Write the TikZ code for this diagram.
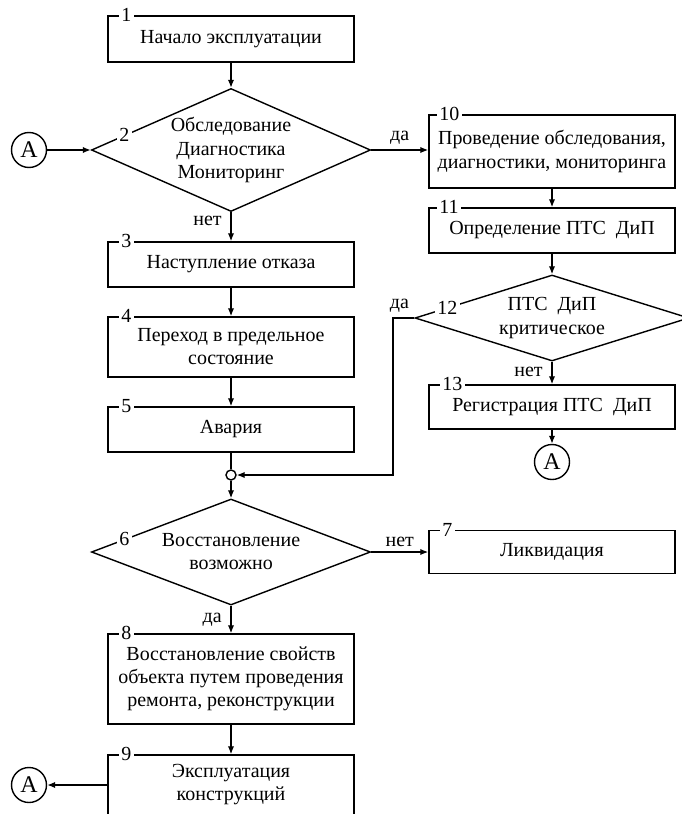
\documentclass[tikz,border=0pt]{standalone}
\usepackage{fontspec}
\setmainfont{Liberation Serif}
\usetikzlibrary{shapes.geometric,arrows.meta,calc}

\begin{document}
\begin{tikzpicture}[x=0.025cm,y=-0.025cm,font=\fontsize{14.2}{16.4}\selectfont,
    flow/.style={draw=black,line width=1pt,-{Latex[length=2mm,width=1.6mm]}}]
      \clip (0,0) rectangle (682,814);
      \begin{scope}[every node/.style={draw,line width=1pt,minimum width=6.15cm,align=center,inner sep=0pt}]
        \node[minimum height=1.15cm] (b1) at (231,39) {Начало эксплуатации};
        \node[minimum height=1.125cm] (b3) at (231,264.5) {Наступление отказа};
        \node[minimum height=1.5cm] (b4) at (231,347) {Переход в предельное\\состояние};
        \node[minimum height=1.125cm] (b5) at (231,429.5) {Авария};
        \node[minimum height=1.075cm] (b7) at (552,552) {Ликвидация};
        \node[minimum height=2.25cm] (b8) at (231,679) {Восстановление свойств\\объекта путем проведения\\ремонта, реконструкции};
        \node[minimum height=1.5cm] (b9) at (231,785) {Эксплуатация\\конструкций};
        \node[minimum height=1.825cm] (b10) at (552,151.5) {Проведение обследования,\\диагностики, мониторинга};
        \node[minimum height=1.125cm] (b11) at (552,230.5) {Определение ПТС~ ДиП};
        \node[minimum height=1.1cm] (b13) at (552,407) {Регистрация ПТС~ ДиП};
      \end{scope}
      \begin{scope}[every node/.style={draw,diamond,line width=1pt,inner sep=0pt}]
        \node[minimum width=6.975cm,minimum height=3.075cm] (d2) at (231,150) {};
        \node[minimum width=6.975cm,minimum height=2.65cm] (d6) at (231,552) {};
        \node[minimum width=6.85cm,minimum height=2.15cm] (d12) at (552,318) {};
      \end{scope}
      \begin{scope}[every node/.style={align=center}]
        \node (t2) at (d2) {Обследование\\Диагностика\\Мониторинг};
        \node (t6) at (d6) {Восстановление\\возможно};
        \node (t12) at (d12) {ПТС~ ДиП\\критическое};
      \end{scope}
      \begin{scope}[every node/.style={draw,circle,line width=1pt,inner sep=0pt,minimum size=0.875cm,font=\fontsize{17}{19}\selectfont}]
        \node (a1) at (29,150) {A};
        \node (a2) at (29,785) {A};
        \node (a3) at (552,462) {A};
      \end{scope}
      \node[draw,circle,fill=white,line width=1pt,inner sep=0pt,minimum size=0.25cm] (j) at (231,475) {};
      \coordinate (k12) at (393,318);
      \begin{scope}[every node/.style={fill=white,inner xsep=2pt,inner ysep=0pt}]
        \node[anchor=west] (n1) at ([xshift=0.275cm]b1.north west) {1};
        \node[anchor=west] (n3) at ([xshift=0.275cm]b3.north west) {3};
        \node[anchor=west] (n4) at ([xshift=0.275cm]b4.north west) {4};
        \node[anchor=west] (n5) at ([xshift=0.275cm]b5.north west) {5};
        \node[anchor=west] (n7) at ([xshift=0.275cm]b7.north west) {7};
        \node[anchor=west] (n8) at ([xshift=0.275cm]b8.north west) {8};
        \node[anchor=west] (n9) at ([xshift=0.275cm]b9.north west) {9};
        \node[anchor=west] (n10) at ([xshift=0.2cm]b10.north west) {10};
        \node[anchor=west] (n11) at ([xshift=0.2cm]b11.north west) {11};
        \node[anchor=west] (n13) at ([xshift=0.275cm]b13.north west) {13};
        \node (n2) at ($(d2.west)!0.24!(d2.north)$) {2};
        \node (n6) at ($(d6.west)!0.24!(d6.north)$) {6};
        \node (n12) at ($(d12.west)!0.24!(d12.north)$) {12};
      \end{scope}
      \begin{scope}[every edge/.style={flow}]
        \path (b1) edge (d2);
        \path (a1) edge (d2.west);
        \path (d2) edge node[left=1mm,pos=0.3] {нет} (b3);
        \path (d2.east) edge node[above] {да} (d2.east -| b10.west);
        \path (b3) edge (b4);
        \path (b4) edge (b5);
        \path (b5) edge[-] (j);
        \path (j) edge (d6);
        \path (d6.east) edge node[above] {нет} (d6.east -| b7.west);
        \path (d6) edge node[left=1mm] {да} (b8);
        \path (b8) edge (b9);
        \path (b9.west) edge (a2);
        \path (b10) edge (b11);
        \path (b11) edge (d12);
        \path (d12) edge node[left=1mm,pos=0.45] {нет} (b13);
        \path (b13) edge (a3);
      \end{scope}
      \draw[flow] (d12.west) -- node[above,pos=0.7] {да} (k12) |- (j);
    \end{tikzpicture}
\end{document}
